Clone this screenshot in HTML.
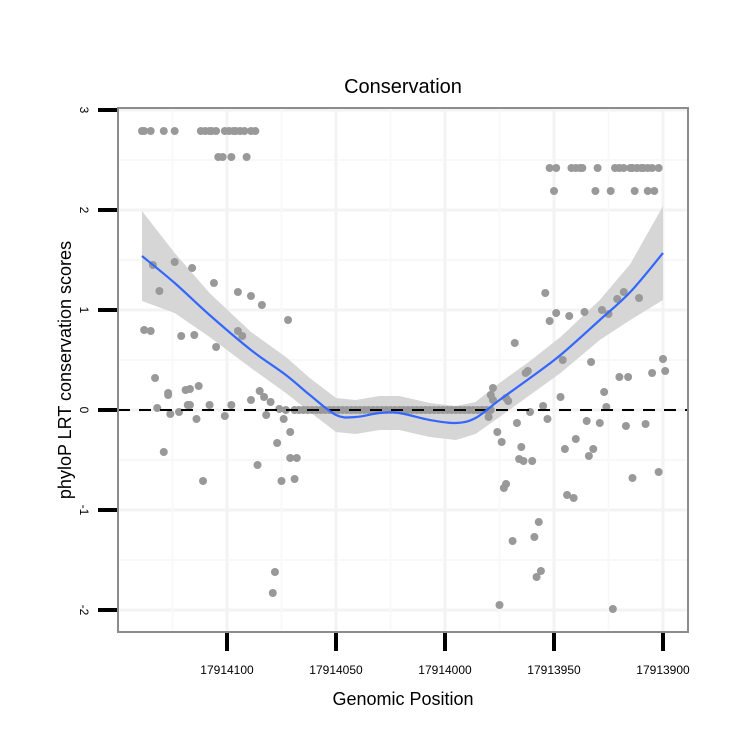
<!DOCTYPE html>
<html><head><meta charset="utf-8"><style>
html,body{margin:0;padding:0;background:#fff}
svg{display:block;font-family:"Liberation Sans",sans-serif}
</style></head><body>
<svg id="chart" width="750" height="750" viewBox="0 0 750 750">
<rect x="0" y="0" width="750" height="750" fill="#fff"/>
<g id="grid"></g>
<g id="ribbon"></g>
<g id="pts"></g>
<line id="zero" stroke="#000" stroke-width="2" stroke-dasharray="12,9"/>
<g id="smooth"></g>
<rect x="118" y="108" width="570" height="524" fill="none" stroke="#8c8c8c" stroke-width="2"/>
<g id="axes"></g>
<text x="403" y="93" text-anchor="middle" font-size="20">Conservation</text>
<text x="403" y="705" text-anchor="middle" font-size="18">Genomic Position</text>
<text transform="translate(71,370) rotate(-90)" text-anchor="middle" font-size="18">phyloP LRT conservation scores</text>
</svg>
<script>
const xTicks=[17914100,17914050,17914000,17913950,17913900];
const xTickLabels=["17914100","17914050","17914000","17913950","17913900"];
const yTicks=[-2,-1,0,1,2,3];
const yTickLabels=["-2","-1","0","1","2","3"];
const topPos=[17914139,17914138,17914135,17914129,17914124,17914112,17914110,17914108,17914107,17914105,17914101,17914099,17914097,17914096,17914094,17914092,17914089,17914087];
const midPos=[17914104,17914102,17914098,17914091];
const rightTopPos=[17913952,17913949,17913942,17913940,17913938,17913937,17913930,17913922,17913920,17913918,17913915,17913914,17913912,17913910,17913909,17913907,17913905,17913902];
const rightMidPos=[17913950,17913931,17913924,17913913,17913907,17913904];
const zeroRunPos=[17914069,17914067,17914065,17914063,17914061,17914059,17914057,17914055,17914053,17914051,17914049,17914047,17914045,17914043,17914041,17914039,17914037,17914035,17914033,17914031,17914029,17914027,17914025,17914023,17914021,17914019,17914017,17914015,17914013,17914011,17914009,17914007,17914005,17914003,17914001,17913999,17913997,17913995,17913993,17913991,17913989,17913987,17913985,17913983,17913981,17913979];
const otherPos=[17914134,17914124,17914116,17914131,17914106,17914095,17914089,17914084,17914072,17914138,17914135,17914121,17914115,17914095,17914093,17914105,
17914133,17914127,17914127,17914119,17914117,17914113,17914132,17914126,17914122,17914118,17914117,17914114,17914108,17914101,17914098,17914089,17914085,17914083,17914080,17914082,17914076,17914073,17914074,17914071,17914077,17914129,17914086,17914071,17914068,17914111,17914075,17914069,17914078,17914079,
17913954,17913949,17913952,17913943,17913936,17913928,17913925,17913921,17913918,17913911,17913968,17913962,17913963,17913946,17913933,17913900,17913899,17913905,17913920,17913916,17913927,17913947,17913978,17913979,17913978,17913972,17913971,17913955,17913926,17913983,17913980,17913961,17913967,17913953,17913935,17913929,17913917,17913908,17913976,17913974,17913965,17913940,17913945,17913932,17913934,17913966,17913964,17913960,17913914,17913902,17913973,17913972,17913944,17913941,17913957,17913959,17913969,17913956,17913958,17913975,17913923];
const otherScore=[1.45,1.48,1.42,1.19,1.27,1.18,1.14,1.05,0.90,0.80,0.79,0.74,0.75,0.79,0.74,0.63,
0.32,0.17,0.15,0.20,0.21,0.24,0.02,-0.04,-0.02,0.05,0.05,-0.09,0.05,-0.06,0.05,0.10,0.19,0.13,0.08,-0.05,0.01,0.00,-0.09,-0.22,-0.33,-0.42,-0.55,-0.48,-0.48,-0.71,-0.71,-0.69,-1.62,-1.83,
1.17,0.97,0.89,0.94,0.98,1.00,0.96,1.11,1.18,1.12,0.67,0.39,0.37,0.50,0.48,0.51,0.39,0.37,0.33,0.33,0.18,0.13,0.22,0.15,0.10,0.12,0.09,0.04,0.03,0.00,-0.07,-0.02,-0.13,-0.09,-0.11,-0.13,-0.16,-0.14,-0.22,-0.32,-0.37,-0.29,-0.39,-0.39,-0.46,-0.49,-0.51,-0.51,-0.68,-0.62,-0.78,-0.74,-0.85,-0.88,-1.12,-1.27,-1.31,-1.61,-1.67,-1.95,-1.99];
const topScore=2.79, midScore=2.53, rightTopScore=2.42, rightMidScore=2.19;
const smoothPos=[17914139,17914124,17914108,17914089,17914073,17914062,17914050,17914041,17914030,17914021,17914007,17913995,17913986,17913975,17913961,17913947,17913929,17913915,17913900];
const smoothFit=[1.54,1.27,0.95,0.60,0.35,0.15,-0.05,-0.07,-0.03,-0.03,-0.10,-0.13,-0.08,0.10,0.32,0.55,0.90,1.18,1.57];
const smoothSE=[0.45,0.30,0.22,0.18,0.18,0.17,0.17,0.17,0.17,0.17,0.17,0.17,0.16,0.17,0.17,0.18,0.20,0.28,0.47];

const NS="http://www.w3.org/2000/svg";
const X=p=>227+(17914100-p)*2.18;
const Y=v=>410-v*100;
function mk(tag,attrs,parent){const e=document.createElementNS(NS,tag);for(const k in attrs)e.setAttribute(k,attrs[k]);parent.appendChild(e);return e;}
const grid=document.getElementById('grid');
for(let i=0;i<yTicks.length;i++){
 const l=mk('line',{x1:118,x2:688,y1:Y(yTicks[i]),y2:Y(yTicks[i]),stroke:'#f3f3f3','stroke-width':3},grid);
 
 
 if(i<yTicks.length-1){const m=mk('line',{x1:118,x2:688,y1:Y(yTicks[i]+0.5),y2:Y(yTicks[i]+0.5),stroke:'#f8f8f8','stroke-width':2},grid);
 
 }
}
for(let i=0;i<xTicks.length;i++){
 const l=mk('line',{x1:X(xTicks[i]),x2:X(xTicks[i]),y1:108,y2:632,stroke:'#f3f3f3','stroke-width':3},grid);
 
 
 if(i<xTicks.length-1){const m=mk('line',{x1:X(xTicks[i]-25),x2:X(xTicks[i]-25),y1:108,y2:632,stroke:'#f8f8f8','stroke-width':2},grid);
 
 }
}
const m0=mk('line',{x1:X(xTicks[0]+25),x2:X(xTicks[0]+25),y1:108,y2:632,stroke:'#f8f8f8','stroke-width':2},grid);


// ribbon
let up=[],dn=[];
for(let i=0;i<smoothPos.length;i++){up.push(X(smoothPos[i])+','+Y(smoothFit[i]+smoothSE[i]));dn.unshift(X(smoothPos[i])+','+Y(smoothFit[i]-smoothSE[i]));}
const rb=mk('polygon',{points:up.concat(dn).join(' '),fill:'#d6d6d6'},document.getElementById('ribbon'));


// points
const pg=document.getElementById('pts');
function dot(p,v){const c=mk('circle',{cx:X(p),cy:Y(v),r:4,fill:'#999'},pg);
 
 }
topPos.forEach(p=>dot(p,topScore));
midPos.forEach(p=>dot(p,midScore));
rightTopPos.forEach(p=>dot(p,rightTopScore));
rightMidPos.forEach(p=>dot(p,rightMidScore));
zeroRunPos.forEach(p=>dot(p,0));
otherPos.forEach((p,i)=>dot(p,otherScore[i]));
const z=document.getElementById('zero');
z.setAttribute('x1',118);z.setAttribute('x2',688);z.setAttribute('y1',Y(0));z.setAttribute('y2',Y(0));
// smooth line
const pts=smoothPos.map((p,i)=>[X(p),Y(smoothFit[i])]);
let d='M'+pts[0][0]+','+pts[0][1];
for(let i=1;i<pts.length;i++){const p0=pts[Math.max(0,i-2)],p1=pts[i-1],p2=pts[i],p3=pts[Math.min(pts.length-1,i+1)];
 d+=' C'+(p1[0]+(p2[0]-p0[0])/6)+','+(p1[1]+(p2[1]-p0[1])/6)+' '+(p2[0]-(p3[0]-p1[0])/6)+','+(p2[1]-(p3[1]-p1[1])/6)+' '+p2[0]+','+p2[1];}
const sl=mk('path',{d:d,fill:'none',stroke:'#3366ff','stroke-width':2.2},document.getElementById('smooth'));


// axes
const ax=document.getElementById('axes');
yTicks.forEach((v,i)=>{
 const t=mk('line',{x1:98,x2:117,y1:Y(v),y2:Y(v),stroke:'#000','stroke-width':4},ax);
 
 
 const tx=mk('text',{transform:'translate(80,'+Y(v)+') rotate(90)','text-anchor':'middle','font-size':12},ax);
 tx.textContent=yTickLabels[i];
 
 
});
xTicks.forEach((p,i)=>{
 const t=mk('line',{x1:X(p),x2:X(p),y1:633,y2:651,stroke:'#000','stroke-width':4},ax);
 
 
 const tx=mk('text',{x:X(p),y:674,'text-anchor':'middle','font-size':12},ax);
 tx.textContent=xTickLabels[i];
 
 
});
</script>
</body></html>
